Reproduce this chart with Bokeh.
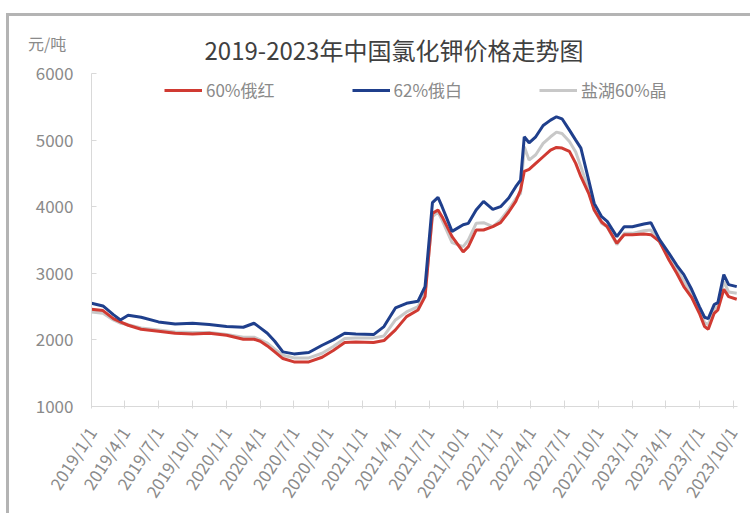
import pandas as pd
from bokeh.plotting import figure
from bokeh.models import Range1d, FixedTicker, Legend, LegendItem, Div
from bokeh.layouts import column
from bokeh.embed import file_html
from bokeh.resources import INLINE

# ---------------- data ----------------
dates = ["2019-01-01", "2019-02-01", "2019-03-01", "2019-03-20", "2019-04-10", "2019-05-15",
         "2019-07-01", "2019-08-15", "2019-10-01", "2019-11-15", "2020-01-01", "2020-02-15",
         "2020-03-15", "2020-04-01", "2020-04-20", "2020-05-10", "2020-06-01", "2020-07-01",
         "2020-08-10", "2020-09-15", "2020-10-15", "2020-11-15", "2020-12-15", "2021-02-01",
         "2021-03-01", "2021-04-01", "2021-05-01", "2021-06-01", "2021-06-20", "2021-07-10",
         "2021-07-25", "2021-08-05", "2021-09-01", "2021-10-01", "2021-10-15", "2021-11-05",
         "2021-11-25", "2021-12-20", "2022-01-10", "2022-02-01", "2022-02-20", "2022-03-05",
         "2022-03-15", "2022-03-28", "2022-04-15", "2022-05-05", "2022-05-25", "2022-06-10",
         "2022-06-25", "2022-07-15", "2022-08-01", "2022-08-15", "2022-09-05", "2022-09-20",
         "2022-10-10", "2022-10-25", "2022-11-20", "2022-12-10", "2023-01-01", "2023-02-01",
         "2023-02-20", "2023-03-15", "2023-04-10", "2023-05-01", "2023-05-20", "2023-06-10",
         "2023-07-01", "2023-07-15", "2023-07-25", "2023-08-10", "2023-08-20", "2023-09-05",
         "2023-09-18", "2023-10-10"]

red_60 = [2460, 2440, 2320, 2270, 2220, 2160, 2130, 2100, 2090, 2100, 2070, 2010,
          2010, 1980, 1910, 1820, 1720, 1670, 1670, 1740, 1840, 1960, 1970, 1960,
          1990, 2150, 2350, 2450, 2650, 3900, 3950, 3850, 3550, 3320, 3400, 3650,
          3650, 3700, 3760, 3920, 4080, 4250, 4530, 4560, 4650, 4750, 4850, 4890,
          4880, 4830, 4650, 4450, 4200, 3950, 3770, 3700, 3450, 3580, 3580, 3590,
          3580, 3480, 3200, 3000, 2800, 2640, 2400, 2200, 2160, 2400, 2450, 2760,
          2650, 2610]

blue_62 = [2550, 2510, 2380, 2300, 2370, 2340, 2270, 2240, 2250, 2230, 2200, 2190,
           2250, 2180, 2100, 1980, 1820, 1790, 1810, 1920, 2000, 2100, 2090, 2080,
           2200, 2480, 2550, 2580, 2800, 4060, 4140, 4000, 3630, 3730, 3750, 3950,
           4080, 3960, 4000, 4130, 4300, 4400, 5050, 4960, 5050, 5220, 5300, 5350,
           5320, 5150, 5000, 4880, 4400, 4050, 3850, 3780, 3550, 3700, 3700, 3740,
           3760, 3510, 3300, 3120, 2980, 2760, 2500, 2340, 2320, 2530, 2560, 2980,
           2830, 2800]

gray_salt = [2420, 2400, 2300, 2250, 2230, 2180, 2150, 2120, 2110, 2110, 2080, 2040,
             2040, 2000, 1950, 1860, 1770, 1730, 1730, 1800, 1900, 2020, 2030, 2030,
             2060, 2300, 2420, 2500, 2700, 3850, 3920, 3800, 3460, 3400, 3500, 3750,
             3760, 3700, 3800, 3960, 4120, 4200, 4900, 4700, 4780, 4950, 5050, 5120,
             5100, 4980, 4820, 4600, 4250, 3950, 3750, 3700, 3430, 3600, 3600, 3640,
             3650, 3470, 3250, 3060, 2880, 2700, 2450, 2260, 2230, 2470, 2500, 2880,
             2720, 2700]

tick_labels = ["2019/1/1", "2019/4/1", "2019/7/1", "2019/10/1", "2020/1/1", "2020/4/1",
               "2020/7/1", "2020/10/1", "2021/1/1", "2021/4/1", "2021/7/1", "2021/10/1",
               "2022/1/1", "2022/4/1", "2022/7/1", "2022/10/1", "2023/1/1", "2023/4/1",
               "2023/7/1", "2023/10/1"]
y_ticks = [1000, 2000, 3000, 4000, 5000, 6000]

series_names = ["60%俄红", "62%俄白", "盐湖60%晶"]
series_colors = ["#d03a32", "#1f3f8c", "#c8c8c8"]

title_text = "2019-2023年中国氯化钾价格走势图"
unit_text = "元/吨"

# ---------------- figure ----------------
x = pd.to_datetime(dates)
tick_dt = pd.to_datetime(tick_labels, format="%Y/%m/%d")
tick_ms = [int(t.value // 10**6) for t in tick_dt]

x_start = pd.Timestamp("2019-01-01")
x_end = pd.Timestamp("2023-10-12")

FONT = "Noto Sans CJK SC"
W = 733
HEAD_H = 35

head = Div(width=W, height=HEAD_H, text=(
    '<div style="position:relative;width:%dpx;height:%dpx;font-family:\'%s\';overflow:visible;">'
    '<span style="position:absolute;left:14px;top:22px;transform:translateY(-50%%);'
    'font-size:16px;color:#8a8a8a;white-space:nowrap;">%s</span>'
    '<span style="position:absolute;left:380px;top:29px;transform:translate(-50%%,-50%%);'
    'font-size:24px;color:#404040;white-space:nowrap;">%s</span>'
    '</div>') % (W, HEAD_H, FONT, unit_text, title_text))
head.styles = {"overflow": "visible", "z-index": "2"}

p = figure(width=W, height=452, x_axis_type="datetime",
           x_range=Range1d(x_start, x_end), y_range=Range1d(1000, 6000),
           output_backend="svg", toolbar_location=None,
           min_border_left=82, min_border_right=5, min_border_top=12, min_border_bottom=107)
p.outline_line_color = None
p.background_fill_color = "white"
p.border_fill_color = None
p.xgrid.grid_line_color = None
p.ygrid.grid_line_color = None

r_gray = p.line(x, gray_salt, line_color=series_colors[2], line_width=3)
r_red = p.line(x, red_60, line_color=series_colors[0], line_width=3)
r_blue = p.line(x, blue_62, line_color=series_colors[1], line_width=3)

# axes
xa = p.xaxis[0]
xa.ticker = FixedTicker(ticks=tick_ms)
xa.major_label_overrides = {ms: lab for ms, lab in zip(tick_ms, tick_labels)}
xa.major_label_orientation = 1.0
xa.minor_tick_line_color = None
xa.axis_line_color = "#d9d9d9"
xa.major_tick_line_color = "#d9d9d9"
xa.major_tick_in = 6
xa.major_tick_out = 2
xa.major_label_standoff = 20
xa.major_label_text_font = FONT
xa.major_label_text_font_size = "17px"
xa.major_label_text_color = "#8a8a8a"

ya = p.yaxis[0]
ya.ticker = FixedTicker(ticks=y_ticks)
ya.minor_tick_line_color = None
ya.axis_line_color = "#d9d9d9"
ya.major_tick_line_color = "#d9d9d9"
ya.major_tick_in = 5
ya.major_tick_out = 0
ya.major_label_standoff = 18
ya.major_label_text_font = FONT
ya.major_label_text_font_size = "17px"
ya.major_label_text_color = "#8a8a8a"

# legend
legend = Legend(items=[LegendItem(label=series_names[0], renderers=[r_red]),
                       LegendItem(label=series_names[1], renderers=[r_blue]),
                       LegendItem(label=series_names[2], renderers=[r_gray])],
                orientation="horizontal", location=(73, 304),
                border_line_color=None, background_fill_alpha=0,
                padding=0, margin=0, spacing=77,
                glyph_width=38, glyph_height=20, label_height=20,
                label_standoff=4, label_text_font=FONT,
                label_text_font_size="17px", label_text_color="#8a8a8a")
p.add_layout(legend)

layout = column(head, p, spacing=0)
layout.styles = {"border-top": "3px solid #b4b4b4", "border-left": "3px solid #b4b4b4",
                 "margin-top": "13px", "margin-left": "6px"}

open("out.html", "w").write(file_html(layout, INLINE))
